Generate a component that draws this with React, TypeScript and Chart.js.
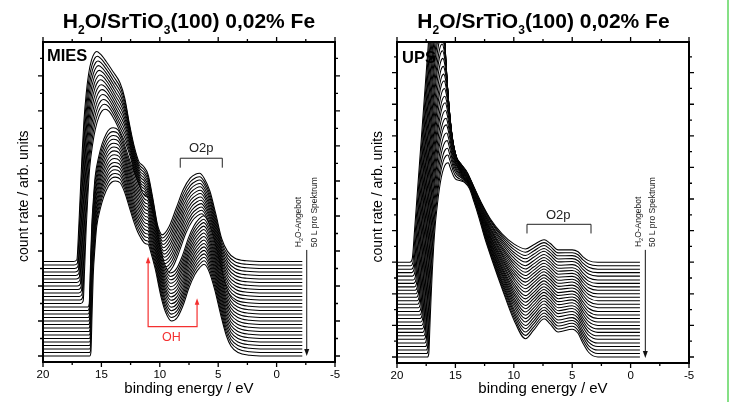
import React, { useEffect, useRef } from 'react';
import { Chart, registerables } from 'chart.js';

Chart.register(...registerables);

const FONT = '"Liberation Sans", Arial, Helvetica, sans-serif';

// ---------- axis texts / ticks ----------
const xTickValues = [20, 15, 10, 5, 0, -5];
const xTitle = 'binding energy / eV';
const yTitle = '   count rate / arb. units';

// ---------- MIES: first (clean) and last (dosed) spectrum, landmark points ----------
const miesCleanE = [20, 17.4, 17.1, 16.95, 16.8, 16.65, 16.5, 16.3, 16.1, 15.85, 15.6, 15.4, 15.1, 14.6, 14.0, 13.4, 13.0, 12.6, 12.2, 11.8, 11.4, 11.0, 10.6, 10.2, 10.0, 9.8, 9.2, 8.6, 8.0, 7.4, 6.9, 6.6, 6.2, 5.7, 5.2, 4.7, 4.2, 3.6, 2.6, 1.0, -2.2];
const miesCleanH = [0, 0, 0.05, 0.9, 2.0, 3.1, 4.0, 4.8, 5.35, 5.75, 5.95, 6.0, 5.93, 5.72, 5.42, 5.1, 4.67, 3.93, 3.3, 2.86, 2.72, 2.48, 1.81, 1.05, 0.85, 0.76, 1.0, 1.52, 2.05, 2.38, 2.5, 2.52, 2.38, 2.0, 1.35, 0.65, 0.29, 0.1, 0.02, 0, 0];
const miesDosedE = [20, 16.0, 15.9, 15.8, 15.7, 15.55, 15.4, 15.1, 14.8, 14.4, 14.1, 13.8, 13.4, 13.0, 12.6, 12.2, 11.9, 11.6, 11.35, 11.15, 11.0, 10.8, 10.4, 9.9, 9.5, 9.0, 8.5, 8.0, 7.5, 7.0, 6.6, 6.2, 5.8, 5.3, 4.8, 4.3, 3.9, 3.3, 2.3, 1.0, -2.2];
const miesDosedH = [0, 0, 0.1, 1.2, 2.3, 3.1, 3.7, 4.2, 4.55, 4.85, 4.97, 5.0, 4.95, 4.67, 4.24, 3.81, 3.55, 3.36, 3.24, 3.2, 3.19, 3.0, 2.5, 1.7, 1.25, 1.0, 1.1, 1.45, 1.95, 2.33, 2.52, 2.62, 2.43, 1.9, 1.2, 0.58, 0.28, 0.1, 0.02, 0, 0];
// vertical offset of each spectrum (top = first spectrum)
const miesOffsets = [2.7, 2.6, 2.5, 2.4, 2.3, 2.2, 2.1, 2.0, 1.9, 1.8, 1.7, 1.6, 1.5, 1.4, 1.3, 1.2, 1.1, 1.0, 0.9, 0.8, 0.7, 0.6, 0.5, 0.4, 0.3, 0.2, 0.1, 0.0];
// how far each spectrum has evolved from clean (0) to dosed (1)
const miesMix = [0, 0.035, 0.07, 0.105, 0.14, 0.175, 0.21, 0.25, 0.29, 0.33, 0.37, 0.41, 0.45, 0.88, 0.89, 0.9, 0.91, 0.92, 0.93, 0.94, 0.95, 0.96, 0.97, 0.975, 0.98, 0.985, 0.99, 1.0];

// ---------- UPS ----------
const upsCleanE = [20, 18.9, 18.7, 18.5, 18.3, 18.1, 17.9, 17.7, 17.5, 17.3, 17.1, 16.9, 16.7, 16.5, 16.3, 16.1, 15.95, 15.8, 15.6, 15.4, 15.0, 14.5, 14.0, 13.4, 12.8, 12.0, 11.0, 10.0, 9.0, 8.3, 7.4, 6.9, 6.2, 5.0, 4.5, 4.1, 3.6, 2.8, -0.8];
const upsCleanH = [0, 0, 0.1, 1.0, 2.0, 3.0, 4.0, 5.0, 6.0, 7.0, 7.9, 8.7, 9.3, 9.5, 9.2, 8.3, 7.0, 6.0, 4.9, 4.1, 3.4, 3.1, 2.85, 2.37, 1.9, 1.37, 0.9, 0.58, 0.42, 0.55, 0.71, 0.6, 0.39, 0.39, 0.33, 0.18, 0.05, 0, 0];
const upsDosedE = [20, 17.4, 17.28, 17.18, 17.08, 16.98, 16.86, 16.72, 16.55, 16.38, 16.2, 16.0, 15.8, 15.6, 15.45, 15.3, 15.15, 15.0, 14.8, 14.5, 14.2, 13.8, 13.4, 13.0, 12.5, 11.8, 11.0, 10.0, 9.0, 8.3, 7.4, 6.9, 6.2, 5.0, 4.5, 4.1, 3.6, 2.8, -0.8];
const upsDosedH = [0, 0, 0.1, 1.0, 1.9, 2.7, 3.5, 4.2, 4.8, 5.3, 5.7, 5.98, 6.12, 6.15, 6.0, 5.85, 5.72, 5.64, 5.6, 5.57, 5.52, 5.33, 4.9, 4.43, 3.78, 3.0, 2.16, 1.18, 0.58, 0.85, 1.21, 1.05, 0.79, 0.88, 0.75, 0.45, 0.15, 0, 0];
const upsOffsets = [3.0, 2.89, 2.78, 2.67, 2.56, 2.44, 2.33, 2.22, 2.11, 2.0, 1.89, 1.78, 1.67, 1.56, 1.44, 1.33, 1.22, 1.11, 1.0, 0.89, 0.78, 0.67, 0.56, 0.44, 0.33, 0.22, 0.11, 0.0];
const upsMix = [0, 0.04, 0.08, 0.11, 0.15, 0.19, 0.22, 0.26, 0.3, 0.33, 0.37, 0.41, 0.44, 0.48, 0.52, 0.56, 0.59, 0.63, 0.67, 0.7, 0.74, 0.78, 0.81, 0.85, 0.89, 0.93, 0.96, 1.0];

type Pt = { x: number; y: number };

function buildSpectra(cE: number[], cH: number[], dE: number[], dH: number[], offsets: number[], mix: number[]): Pt[][] {
  return offsets.map((off, i) => {
    const w = mix[i];
    return cE.map((e, j) => ({ x: e + (dE[j] - e) * w, y: off + cH[j] + (dH[j] - cH[j]) * w }));
  });
}

interface Decor {
  name: string;
  label: string;
  labelDx: number;
  labelDy: number;
  o2p: { e1: number; e2: number; y: number; leg: number; textE: number; textDy: number };
  oh?: { eL: number; eR: number; yBase: number; yL: number; yR: number; textE: number };
  arrow: { e: number; yTop: number; yBot: number; t1E: number; t2E: number; tY: number };
}

function drawRot(ctx: CanvasRenderingContext2D, x: number, y: number, parts: [string, boolean][]) {
  ctx.save();
  ctx.translate(x, y);
  ctx.rotate(-Math.PI / 2);
  ctx.textAlign = 'left';
  ctx.textBaseline = 'alphabetic';
  let cx = 0;
  for (const [t, sub] of parts) {
    ctx.font = (sub ? '5.5px ' : '8.5px ') + FONT;
    ctx.fillText(t, cx, sub ? 2 : 0);
    cx += ctx.measureText(t).width;
  }
  ctx.restore();
}

function makeDecor(d: Decor) {
  return {
    id: 'decor_' + d.name,
    afterDraw(chart: any) {
      const { ctx, chartArea: a } = chart;
      const xs = chart.scales.x;
      const ys = chart.scales.y;
      const X = (v: number) => xs.getPixelForValue(v);
      const Y = (v: number) => ys.getPixelForValue(v);
      ctx.save();
      ctx.strokeStyle = '#000';
      ctx.fillStyle = '#000';
      // tick marks (outward), major and minor
      ctx.lineWidth = 1.3;
      ctx.beginPath();
      for (let k = 0; xs.min + 2.5 * k <= xs.max + 1e-6; k++) {
        const px = X(xs.min + 2.5 * k);
        const len = k % 2 === 0 ? 5 : 3;
        ctx.moveTo(px, a.bottom);
        ctx.lineTo(px, a.bottom + len);
        ctx.moveTo(px, a.top);
        ctx.lineTo(px, a.top - len);
      }
      for (let k = 0; k * 0.5 <= ys.max; k++) {
        const py = Y(k * 0.5);
        const len = k % 2 === 0 ? 5 : 3;
        ctx.moveTo(a.left, py);
        ctx.lineTo(a.left - len, py);
        ctx.moveTo(a.right, py);
        ctx.lineTo(a.right + len, py);
      }
      ctx.stroke();
      // frame
      ctx.lineWidth = 2;
      ctx.strokeRect(a.left, a.top, a.right - a.left, a.bottom - a.top);

      // panel label
      ctx.font = 'bold 16.5px ' + FONT;
      ctx.textAlign = 'left';
      ctx.textBaseline = 'alphabetic';
      ctx.fillText(d.label, a.left + d.labelDx, a.top + d.labelDy);

      // O2p bracket
      const o = d.o2p;
      ctx.strokeStyle = '#222';
      ctx.fillStyle = '#222';
      ctx.lineWidth = 1;
      const x1 = X(o.e1), x2 = X(o.e2), yl = Y(o.y), yb = Y(o.y - o.leg);
      ctx.beginPath();
      ctx.moveTo(x1, yb);
      ctx.lineTo(x1, yl);
      ctx.lineTo(x2, yl);
      ctx.lineTo(x2, yb);
      ctx.stroke();
      ctx.font = '13px ' + FONT;
      ctx.textAlign = 'center';
      ctx.fillText('O2p', X(o.textE), yl - o.textDy);

      // OH (red)
      if (d.oh) {
        const h = d.oh;
        const red = '#f43030';
        ctx.strokeStyle = red;
        ctx.fillStyle = red;
        ctx.lineWidth = 1.2;
        const xl = X(h.eL), xr = X(h.eR), yB = Y(h.yBase);
        const yLt = Y(h.yL), yRt = Y(h.yR);
        ctx.beginPath();
        ctx.moveTo(xl, yLt + 5);
        ctx.lineTo(xl, yB);
        ctx.lineTo(xr, yB);
        ctx.lineTo(xr, yRt + 5);
        ctx.stroke();
        for (const [ax, ay] of [[xl, yLt], [xr, yRt]]) {
          ctx.beginPath();
          ctx.moveTo(ax, ay);
          ctx.lineTo(ax - 2.3, ay + 6.5);
          ctx.lineTo(ax + 2.3, ay + 6.5);
          ctx.closePath();
          ctx.fill();
        }
        ctx.font = '12.5px ' + FONT;
        ctx.textAlign = 'center';
        ctx.fillText('OH', X(h.textE), yB + 14);
      }

      // exposure arrow
      const ar = d.arrow;
      ctx.strokeStyle = '#111';
      ctx.fillStyle = '#111';
      ctx.lineWidth = 1;
      const axp = X(ar.e), ayT = Y(ar.yTop), ayB = Y(ar.yBot);
      ctx.beginPath();
      ctx.moveTo(axp, ayT);
      ctx.lineTo(axp, ayB - 5);
      ctx.stroke();
      ctx.beginPath();
      ctx.moveTo(axp, ayB);
      ctx.lineTo(axp - 2.5, ayB - 7);
      ctx.lineTo(axp + 2.5, ayB - 7);
      ctx.closePath();
      ctx.fill();
      ctx.fillStyle = '#222';
      drawRot(ctx, X(ar.t1E), Y(ar.tY), [['H', false], ['2', true], ['O-Angebot', false]]);
      drawRot(ctx, X(ar.t2E), Y(ar.tY), [['50 L pro Spektrum', false]]);
      ctx.restore();
    },
  };
}

interface PanelCfg {
  spectra: Pt[][];
  yMin: number;
  yMax: number;
  yAxisWidth: number;
  xAxisHeight: number;
  rightPad: number;
  yTitlePad: number;
  decor: Decor;
}

function makeChart(canvas: HTMLCanvasElement, cfg: PanelCfg) {
  // front (last spectrum) first: dataset 0 is painted last
  const datasets = cfg.spectra
    .slice()
    .reverse()
    .map((pts) => ({
      data: pts,
      borderColor: '#000',
      borderWidth: 1.05,
      backgroundColor: '#ffffff',
      fill: 'start' as const,
      pointRadius: 0,
      tension: 0.4,
      cubicInterpolationMode: 'monotone' as const,
    }));
  return new Chart(canvas, {
    type: 'line',
    data: { datasets },
    options: {
      animation: false,
      responsive: false,
      maintainAspectRatio: false,
      devicePixelRatio: 1,
      events: [],
      layout: { padding: { left: 0, right: cfg.rightPad, top: 42, bottom: 0 } },
      plugins: { legend: { display: false }, tooltip: { enabled: false }, title: { display: false } },
      scales: {
        x: {
          type: 'linear',
          reverse: true,
          min: -5,
          max: 20,
          grid: { display: false, drawTicks: false, tickLength: 0 },
          border: { display: false },
          afterBuildTicks: (s: any) => {
            s.ticks = xTickValues.map((v) => ({ value: v }));
          },
          ticks: {
            padding: 6,
            color: '#000',
            font: { family: FONT, size: 11.5 },
            maxRotation: 0,
            autoSkip: false,
            callback: (v: any) => String(v),
          },
          title: {
            display: true,
            text: xTitle,
            color: '#000',
            font: { family: FONT, size: 15 },
            padding: { top: 0, bottom: 4 },
          },
          afterFit: (s: any) => {
            s.height = cfg.xAxisHeight;
          },
        },
        y: {
          type: 'linear',
          min: cfg.yMin,
          max: cfg.yMax,
          grid: { display: false, drawTicks: false, tickLength: 0 },
          border: { display: false },
          ticks: { display: false },
          title: {
            display: true,
            text: yTitle,
            color: '#000',
            font: { family: FONT, size: 14 },
            padding: { top: cfg.yTitlePad, bottom: 0 },
          },
          afterFit: (s: any) => {
            s.width = cfg.yAxisWidth;
          },
        },
      },
    } as any,
    plugins: [makeDecor(cfg.decor)],
  });
}

function Title({ center }: { center: number }) {
  const sub: React.CSSProperties = { fontSize: 12, position: 'relative', top: 6 };
  return (
    <div
      style={{
        position: 'absolute',
        left: center - 200,
        width: 400,
        top: 10,
        textAlign: 'center',
        font: 'bold 21px ' + FONT,
        lineHeight: '21px',
        whiteSpace: 'nowrap',
        color: '#000',
      }}
    >
      H<span style={sub}>2</span>O/SrTiO<span style={sub}>3</span>(100) 0,02% Fe
    </div>
  );
}

export default function App() {
  const leftRef = useRef<HTMLCanvasElement>(null);
  const rightRef = useRef<HTMLCanvasElement>(null);

  useEffect(() => {
    const mies = makeChart(leftRef.current!, {
      spectra: buildSpectra(miesCleanE, miesCleanH, miesDosedE, miesDosedH, miesOffsets, miesMix),
      yMin: -0.171,
      yMax: 8.97,
      yAxisWidth: 43,
      xAxisHeight: 40,
      rightPad: 31,
      yTitlePad: 15.6,
      decor: {
        name: 'mies',
        label: 'MIES',
        labelDx: 4,
        labelDy: 19,
        o2p: { e1: 8.25, e2: 4.65, y: 5.65, leg: 0.27, textE: 6.45, textDy: 6 },
        oh: { eL: 11.0, eR: 6.81, yBase: 0.837, yL: 2.837, yR: 1.65, textE: 9.0 },
        arrow: { e: -2.58, yTop: 3.03, yBot: 0, t1E: -2.13, t2E: -3.42, tY: 3.11 },
      },
    });
    const ups = makeChart(rightRef.current!, {
      spectra: buildSpectra(upsCleanE, upsCleanH, upsDosedE, upsDosedH, upsOffsets, upsMix),
      yMin: -0.19,
      yMax: 9.97,
      yAxisWidth: 31,
      xAxisHeight: 39,
      rightPad: 43,
      yTitlePad: 3.6,
      decor: {
        name: 'ups',
        label: 'UPS',
        labelDx: 5,
        labelDy: 21,
        o2p: { e1: 8.87, e2: 3.39, y: 4.2, leg: 0.29, textE: 6.2, textDy: 5 },
        arrow: { e: -1.26, yTop: 3.39, yBot: -0.03, t1E: -0.89, t2E: -2.13, tY: 3.48 },
      },
    });
    return () => {
      mies.destroy();
      ups.destroy();
    };
  }, []);

  return (
    <div style={{ position: 'absolute', left: 0, top: 0, width: 732, height: 402, background: '#fff', overflow: 'hidden' }}>
      <canvas ref={leftRef} width={366} height={402} style={{ position: 'absolute', left: 0, top: 0, display: 'block' }} />
      <canvas ref={rightRef} width={366} height={402} style={{ position: 'absolute', left: 366, top: 0, display: 'block' }} />
      <Title center={189} />
      <Title center={543.5} />
      <div style={{ position: 'absolute', left: 727, top: 0, width: 2, height: 402, background: '#86e086' }} />
    </div>
  );
}
